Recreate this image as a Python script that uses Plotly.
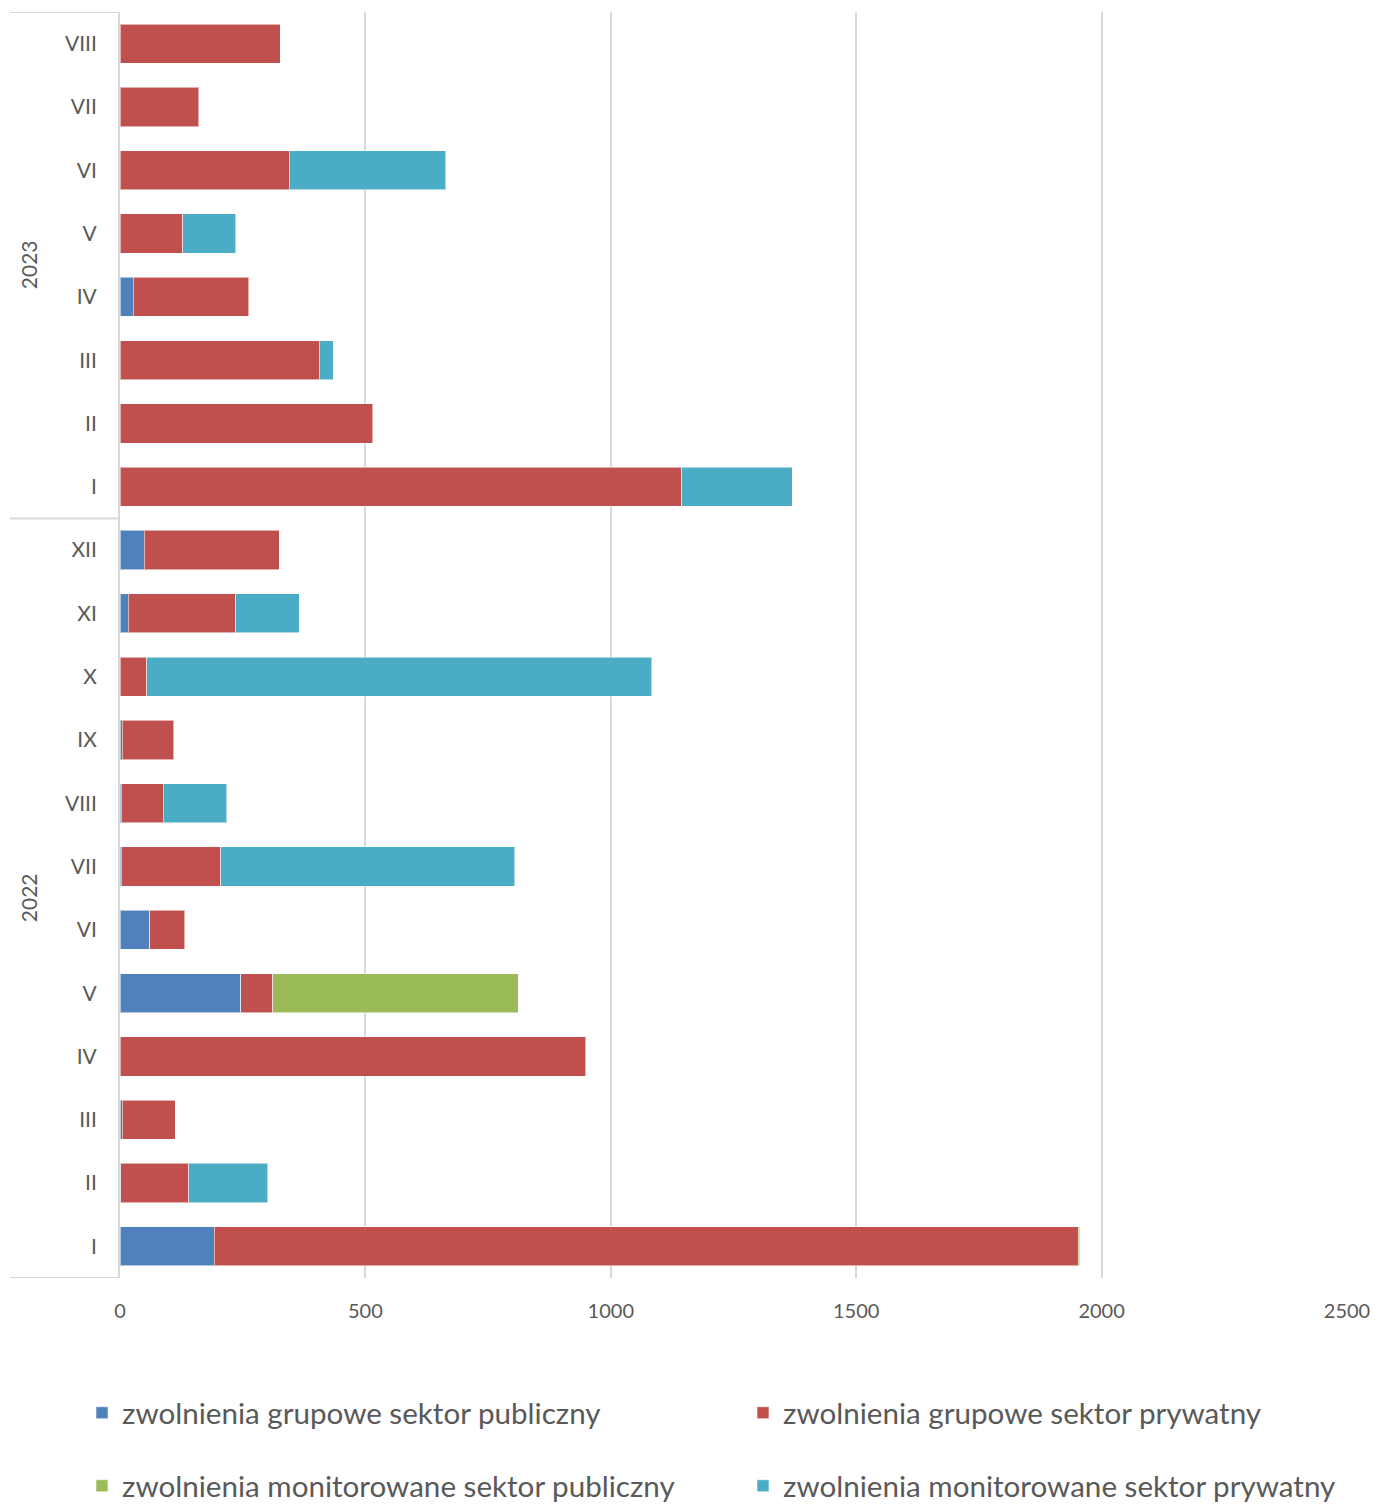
import plotly.graph_objects as go

years = ["2022"] * 12 + ["2023"] * 8
months = ["I", "II", "III", "IV", "V", "VI", "VII", "VIII", "IX", "X", "XI", "XII",
          "I", "II", "III", "IV", "V", "VI", "VII", "VIII"]

grupowe_publiczny = [192, 2, 5, 1, 246, 61, 3, 3, 5, 1, 17, 49,
                     None, None, None, 27, None, None, None, None]
grupowe_prywatny = [1760, 138, 108, 948, 65, 71, 202, 85, 105, 54, 219, 275,
                    1145, 515, 406, 235, 128, 345, 160, 326]
monitorowane_publiczny = [3, None, None, None, 500, None, None, None, None, None, None, None,
                          None, None, None, None, None, None, None, None]
monitorowane_prywatny = [None, 161, None, None, None, None, 599, 130, None, 1028, 129, None,
                         225, None, 28, None, 108, 319, None, None]

series_names = ["zwolnienia grupowe sektor publiczny",
                "zwolnienia grupowe sektor prywatny",
                "zwolnienia monitorowane sektor publiczny",
                "zwolnienia monitorowane sektor prywatny"]
series_values = [grupowe_publiczny, grupowe_prywatny, monitorowane_publiczny, monitorowane_prywatny]
series_colors = ["#4F81BD", "#C0504D", "#9BBB59", "#4BACC6"]

x_ticks = [0, 500, 1000, 1500, 2000, 2500]

keys = [f"{y}-{m}" for y, m in zip(years, months)]

FONT = "Lato, Carlito, 'Liberation Sans', sans-serif"
TXT = "#595959"
GRID = "#D9D9D9"

# page has an 8px body margin; figure sized to fit the window
W, H = 1365, 1504
ml, mr, mt, mb = 112, 26, 4, 234
PW = W - ml - mr

legend_ids = ["legend", "legend2", "legend3", "legend4"]
# legend grid: (x of item start, row centre) in figure pixels
legend_pos = [(74, 1405), (735, 1405), (74, 1478), (735, 1478)]

fig = go.Figure()
for name, vals, col, lg in zip(series_names, series_values, series_colors, legend_ids):
    fig.add_trace(go.Bar(
        y=keys, x=vals, name=name, orientation="h",
        marker=dict(color=col, line=dict(color="rgba(255,255,255,0.55)", width=1)),
        legend=lg,
    ))

legend_layout = {}
for lg, (lx, ly) in zip(legend_ids, legend_pos):
    legend_layout[lg] = dict(orientation="h", xref="container", yref="container",
                             x=lx / W, y=1 - ly / H, xanchor="left", yanchor="middle",
                             font=dict(size=29.6, color=TXT), bgcolor="rgba(0,0,0,0)",
                             traceorder="normal")

fig.update_layout(
    width=W, height=H,
    showlegend=True,
    barmode="stack", bargap=0.38,
    plot_bgcolor="white", paper_bgcolor="white",
    margin=dict(l=ml, r=mr, t=mt, b=mb, autoexpand=False),
    font=dict(family=FONT, color=TXT, size=20),
    xaxis=dict(range=[0, 2500], tickvals=x_ticks, showgrid=True, gridcolor=GRID, gridwidth=2,
               zeroline=False, showline=False, ticks="outside", ticklen=15,
               tickcolor="rgba(0,0,0,0)", tickfont=dict(size=20, color=TXT)),
    yaxis=dict(type="category", categoryorder="array", categoryarray=keys,
               tickvals=keys, ticktext=months, showgrid=False, zeroline=False,
               showline=True, linecolor=GRID, linewidth=2,
               ticks="outside", ticklen=17, tickcolor="rgba(0,0,0,0)",
               tickfont=dict(size=21, color=TXT), range=[-0.5, 19.5]),
    **legend_layout,
)

# year separators in the category label area
x0 = (2 - ml) / PW
for yb in [-0.5, 11.5, 19.5]:
    fig.add_shape(type="line", xref="paper", yref="y", x0=x0, x1=0, y0=yb, y1=yb,
                  line=dict(color=GRID, width=2), layer="above")

# year labels (rotated)
for label, yc in [("2022", 5.5), ("2023", 15.5)]:
    fig.add_annotation(text=label, xref="paper", yref="y",
                       x=(20 - ml) / PW, y=yc, textangle=-90,
                       showarrow=False, font=dict(size=21, color=TXT),
                       xanchor="center", yanchor="middle")

fig.write_html("out.html")
